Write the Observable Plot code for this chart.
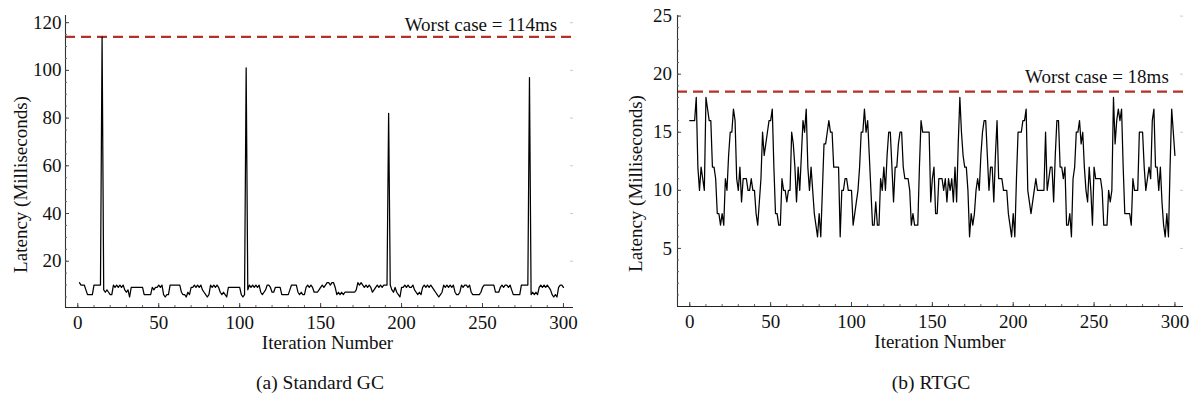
<!DOCTYPE html>
<html>
<head>
<meta charset="utf-8">
<script src="https://cdn.jsdelivr.net/npm/d3@7"></script>
<script src="https://cdn.jsdelivr.net/npm/@observablehq/plot@0.6"></script>
<style>
  html, body { margin: 0; padding: 0; background: #fff; }
  #root { position: relative; width: 1199px; height: 402px; overflow: hidden; background: #fff; }
  .panel { position: absolute; top: 0; }
  .panel svg { overflow: visible; }
  .panel svg, .panel svg text { font-family: "Liberation Serif", "Times New Roman", serif !important; }
  .cap { position: absolute; top: 372px; font-family: "Liberation Serif", "DejaVu Serif", serif; font-size: 19.5px; color: #111; transform: translateX(-50%); white-space: nowrap; }
</style>
</head>
<body>
<div id="root">
  <div id="left" class="panel" style="left:0px"></div>
  <div id="right" class="panel" style="left:600px"></div>
  <div class="cap" id="capA" style="left:320px"></div>
  <div class="cap" id="capB" style="left:931px"></div>
</div>
<script>
// ---------------- data ----------------
const captions = ["(a) Standard GC", "(b) RTGC"];
const xLabel = "Iteration Number";
const yLabel = "Latency (Milliseconds)";
const worstLabels = ["Worst case = 114ms", "Worst case = 18ms"];
const worstValues = [114, 18.5];

const xMajorTicks = [0, 50, 100, 150, 200, 250, 300];
const leftYMajorTicks = [20, 40, 60, 80, 100, 120];
const rightYMajorTicks = [5, 10, 15, 20, 25];

// Standard GC latency, iterations 1..300
const standardStart = 1;
const standardLatency = [
  11,10,10,10,8,6,6,6,6,10,
  10,10,10,10,114,8,7,8,7,6,
  6,10,9,10,9,10,9,10,8,7,
  8,5,9,9,9,9,9,9,9,9,
  6,6,6,6,6,9,8,9,9,10,
  9,10,6,5,6,6,10,10,10,10,
  10,10,10,7,6,6,5,7,6,9,
  9,10,9,10,9,10,8,7,6,5,
  6,10,9,10,9,10,9,7,6,7,
  6,5,9,9,9,9,9,9,9,9,
  6,5,6,101,8,10,9,10,9,10,
  9,10,7,6,7,8,10,10,9,7,
  7,9,9,9,9,6,6,6,6,6,
  8,10,10,10,10,7,6,7,6,6,
  9,10,9,10,9,7,7,7,8,9,
  10,9,10,11,11,10,11,11,9,6,
  7,6,7,6,7,7,7,7,7,7,
  7,8,11,10,11,10,9,10,9,10,
  9,7,8,9,10,9,10,9,10,10,
  10,82,10,8,7,9,7,6,5,9,
  9,10,9,10,9,9,10,8,7,6,
  7,6,9,10,9,10,9,10,9,8,
  7,6,5,6,7,10,9,10,9,10,
  9,10,7,6,6,7,10,9,10,10,
  9,10,7,6,6,6,6,6,7,9,
  10,10,10,10,10,10,10,7,7,7,
  9,10,9,10,10,9,10,8,6,6,
  6,6,6,10,10,10,10,10,97,6,
  7,6,7,6,9,10,9,10,9,10,
  9,8,6,5,6,5,9,10,10,9
];

// RTGC latency, iterations 0..300
const rtgcStart = 0;
const rtgcLatency = [
  16,16,16,16,18,12,10,12,11,10,
  18,17,16,16,12,12,11,8,8,7,
  8,7,11,10,13,15,15,17,16,11,
  10,12,9,11,11,11,10,10,11,10,
  10,8,7,9,11,15,13,14,15,16,
  16,17,12,8,8,7,7,11,10,10,
  9,10,10,15,14,12,9,12,10,13,
  16,15,17,12,10,12,10,8,7,6,
  8,6,10,14,14,15,16,15,15,12,
  12,12,12,6,10,10,11,11,10,10,
  10,7,8,9,10,12,15,15,17,15,
  16,13,10,7,7,9,7,7,11,10,
  12,10,13,15,15,12,9,12,12,14,
  15,15,12,11,11,11,10,7,8,7,
  7,7,12,16,15,15,15,15,15,9,
  11,12,8,8,11,11,11,10,11,9,
  11,10,11,9,12,9,14,18,15,13,
  12,12,10,6,8,7,8,10,11,10,
  13,15,16,16,13,10,12,12,9,13,
  16,11,11,11,10,10,10,8,7,6,
  8,6,11,15,15,15,16,16,17,10,
  9,8,9,10,11,10,10,10,10,10,
  15,10,11,12,12,9,13,16,16,12,
  12,11,12,7,7,8,6,11,12,15,
  15,16,14,15,12,10,9,12,10,7,
  12,11,11,11,11,10,7,7,7,10,
  9,10,18,14,16,17,16,17,12,8,
  8,8,8,7,11,10,10,10,15,15,
  15,12,10,11,12,11,16,17,12,12,
  10,12,9,7,6,8,6,12,17,15,13
];

// ---------------- drawing ----------------
const FONT = "Liberation Serif, Times New Roman, serif";
const xMinorTicks = d3.range(0, 301, 10);

function panel(cfg) {
  const {values, start, xDomain, yDomain, yMajor, yMinor, worst, worstLabel,
         width, height, mL, mR, mT, mB, yPad, worstDx, worstDy, yLabelDx, xLabelDx} = cfg;
  const data = values.map((v, k) => ({iteration: start + k, latency: v}));
  const fw = width - mL - mR, fh = height - mT - mB;
  return Plot.plot({
    width, height,
    marginLeft: mL, marginRight: mR, marginTop: mT, marginBottom: mB,
    x: {domain: xDomain, axis: null},
    y: {domain: yDomain, axis: null},
    style: {fontFamily: FONT, fontSize: "19px", color: "#111", background: "transparent", overflow: "visible"},
    marks: [
      Plot.ruleY([{w: worst}], {y: "w", stroke: "#b3322a", strokeWidth: 2.2, strokeDasharray: "10,6"}),
      Plot.line(data, {x: "iteration", y: "latency", stroke: "#000", strokeWidth: 1.25}),
      Plot.ruleX([xDomain[0]], {stroke: "#333", strokeWidth: 1.1}),
      Plot.ruleY([yDomain[0]], {stroke: "#222", strokeWidth: 1.1}),
      Plot.ruleX(xMinorTicks, {x: d => d, insetTop: fh - 2, stroke: "#666"}),
      Plot.ruleX(xMajorTicks, {x: d => d, insetTop: fh - 4, stroke: "#444"}),
      Plot.ruleY(yMinor, {y: d => d, insetRight: fw - 2, stroke: "#666"}),
      Plot.ruleY(yMajor, {y: d => d, insetRight: fw - 4, stroke: "#444"}),
      Plot.ruleY(yMajor, {y: d => d, insetLeft: fw - 3, stroke: "#ccc"}),
      Plot.axisX({ticks: xMajorTicks, tickSize: 0, tickPadding: 7.5, label: null, fontSize: 19, fontFamily: FONT}),
      Plot.axisY({ticks: yMajor, tickSize: 0, tickPadding: yPad, label: null, fontSize: 19, fontFamily: FONT}),
      Plot.text([{t: worstLabel, w: worst}], {y: "w", text: "t", frameAnchor: "right", textAnchor: "end",
        lineAnchor: "bottom", dx: worstDx, dy: worstDy, fontSize: 19, fontFamily: FONT, fill: "#111"}),
      Plot.text([yLabel], {text: d => d, frameAnchor: "bottom-left", rotate: -90, textAnchor: "middle",
        lineAnchor: "bottom", dx: yLabelDx, dy: -123, fontSize: 19, fontFamily: FONT, fill: "#111"}),
      Plot.text([xLabel], {text: d => d, frameAnchor: "bottom", textAnchor: "middle",
        lineAnchor: "bottom", dx: xLabelDx, dy: 41, fontSize: 19, fontFamily: FONT, fill: "#111"})
    ]
  });
}

document.getElementById("left").append(panel({
  values: standardLatency, start: standardStart,
  xDomain: [-7.6, 306.2], yDomain: [0.6, 123],
  yMajor: leftYMajorTicks, yMinor: d3.range(5, 121, 5),
  worst: worstValues[0], worstLabel: worstLabels[0],
  width: 600, height: 360, mL: 65, mR: 27, mT: 15, mB: 53,
  yPad: 4, worstDx: -16.3, worstDy: -6.3, yLabelDx: -38.5, xLabelDx: 8
}));

document.getElementById("right").append(panel({
  values: rtgcLatency, start: rtgcStart,
  xDomain: [-7.6, 305.3], yDomain: [0, 25.05],
  yMajor: rightYMajorTicks, yMinor: d3.range(1, 26, 1),
  worst: worstValues[1], worstLabel: worstLabels[1],
  width: 599, height: 360, mL: 77, mR: 16, mT: 15, mB: 54,
  yPad: 5.5, worstDx: -14.7, worstDy: -8.3, yLabelDx: -35.5, xLabelDx: 9.5
}));

document.getElementById("capA").textContent = captions[0];
document.getElementById("capB").textContent = captions[1];
</script>
</body>
</html>
